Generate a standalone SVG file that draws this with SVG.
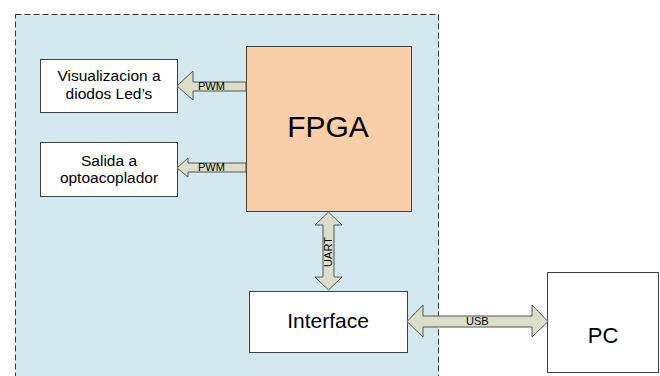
<svg xmlns="http://www.w3.org/2000/svg" width="660" height="376" viewBox="0 0 660 376">
<style>
.box{fill:#ffffff;stroke:#404040;stroke-width:1}
.arr{fill:#dbdec9;stroke:#555555;stroke-width:1;stroke-linejoin:miter}
text{font-family:"Liberation Sans",Arial,sans-serif;fill:#000}
.lbl{font-size:15.5px;text-anchor:middle}
.small{font-size:11px}
</style>
<rect width="660" height="376" fill="#ffffff"/>
<g id="container">
<rect x="15.5" y="14.5" width="423" height="380" fill="#d3e9ef" stroke="#333333" stroke-width="1" stroke-dasharray="6,3"/>
</g>
<g id="fpga">
<rect x="246.5" y="46.5" width="165" height="165" fill="#f9cea9" stroke="#404040"/>
<text x="328" y="137" font-size="30" text-anchor="middle">FPGA</text>
</g>
<g id="leds">
<rect class="box" x="40.5" y="59.5" width="137" height="53"/>
<text class="lbl" x="109" y="81">Visualizacion a</text>
<text class="lbl" x="109" y="99">diodos Led’s</text>
</g>
<g id="opto">
<rect class="box" x="40.5" y="142.5" width="137" height="54"/>
<text class="lbl" x="109" y="166">Salida a</text>
<text class="lbl" x="109" y="183">optoacoplador</text>
</g>
<g id="interface">
<rect class="box" x="249.5" y="291.5" width="158" height="61"/>
<text x="328" y="328" font-size="21" text-anchor="middle">Interface</text>
</g>
<g id="pc">
<rect class="box" x="547.5" y="272.5" width="111" height="100"/>
<text x="603" y="343" font-size="22" text-anchor="middle">PC</text>
</g>
<g id="connectors">
<polygon class="arr" points="246,82 193,82 193,71 177,86 193,100 193,91 246,91"/>
<text class="small" x="198" y="90">PWM</text>
<polygon class="arr" points="246,163 188,163 188,158 177,168 188,177 188,172 246,172"/>
<text class="small" x="198" y="171">PWM</text>
<polygon class="arr" points="328.5,212 342,225 334,225 334,277 342,277 328.5,290 315,277 323,277 323,225 315,225"/>
<text class="small" x="0" y="0" text-anchor="middle" transform="translate(331.5,252) rotate(-90)">UART</text>
<polygon class="arr" points="407,321.5 423,305 423,316 532,316 532,305 548,321.5 532,337 532,327 423,327 423,337"/>
<text class="small" x="466" y="324.5">USB</text>
</g>
</svg>
